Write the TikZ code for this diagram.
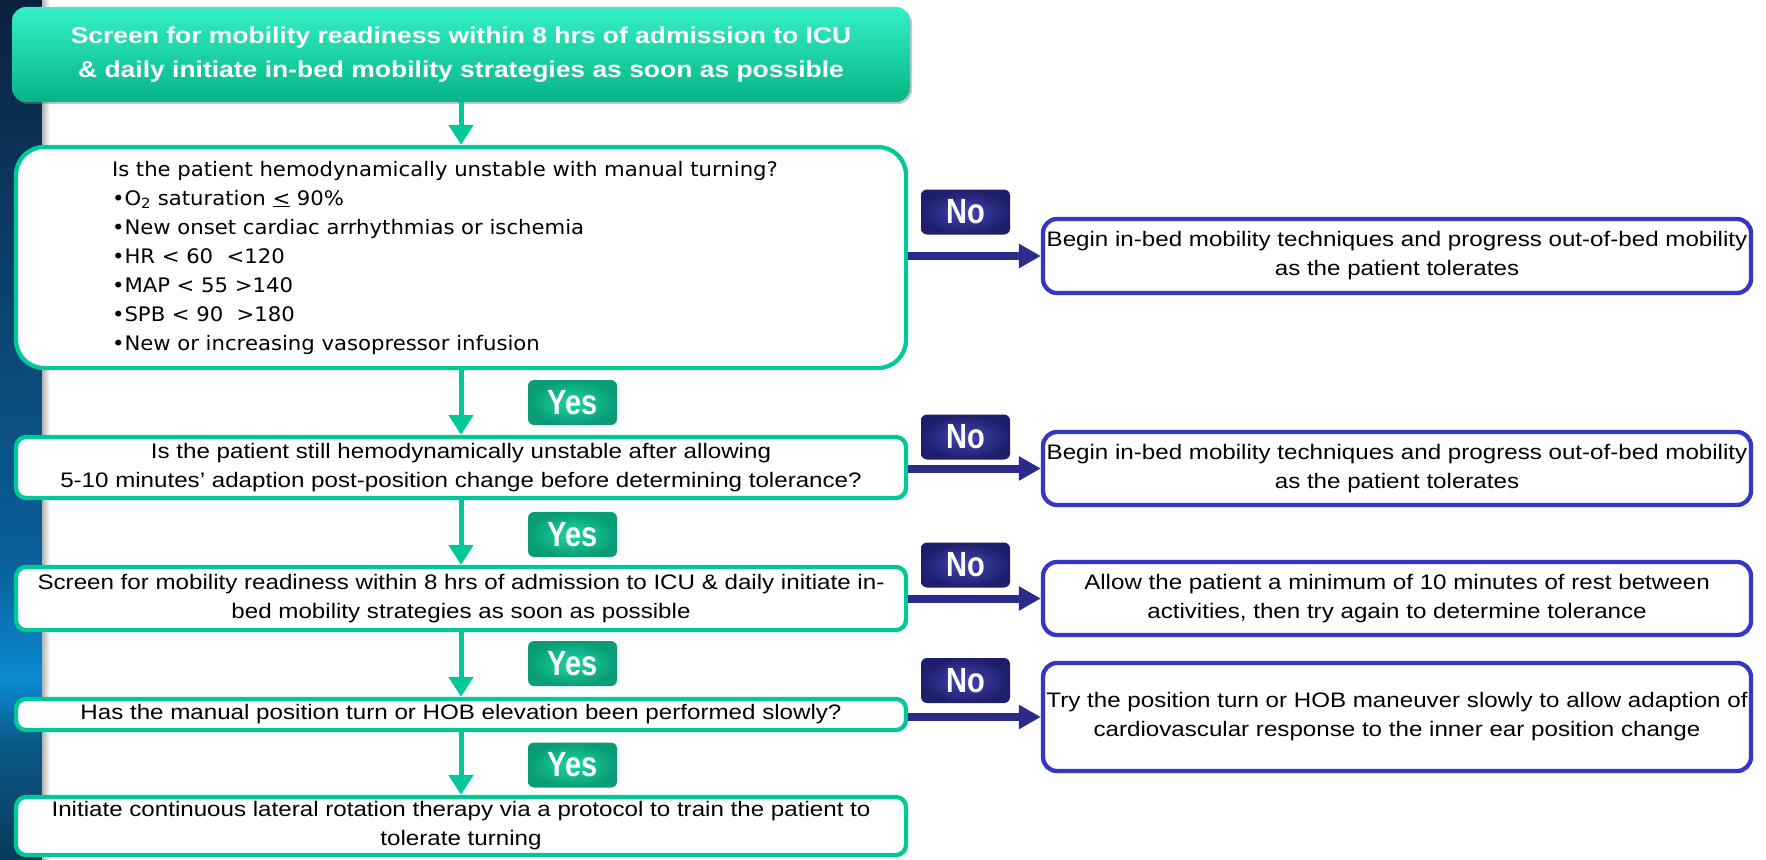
\documentclass[tikz,border=0pt]{standalone}
\usepackage{fontspec}
\setmainfont[FakeStretch=1.15]{Liberation Sans}
\newfontfamily\gulimfont[FakeStretch=1.06]{DejaVu Sans}
\newfontfamily\tagfont[FakeStretch=0.83]{Liberation Sans}
\usetikzlibrary{arrows.meta,shadows}

\definecolor{mintgreen}{HTML}{00C896}
\definecolor{mintlight}{HTML}{34F0C6}
\definecolor{mintdark}{HTML}{06B486}
\definecolor{taggreen}{HTML}{1CD6A4}
\definecolor{taggreendark}{HTML}{0A9C74}
\definecolor{tagnavy}{HTML}{2B2B8C}
\definecolor{tagnavylight}{HTML}{4444B4}
\definecolor{tagnavydark}{HTML}{1E1E6C}
\definecolor{boxblue}{HTML}{3535C8}
\definecolor{stripA}{HTML}{0A2140}
\definecolor{stripB}{HTML}{0B3E66}
\definecolor{stripC}{HTML}{0A5F98}
\definecolor{stripD}{HTML}{0B8AD2}
\definecolor{stripE}{HTML}{0A5A88}
\definecolor{stripF}{HTML}{0A3A5A}

\pgfdeclareverticalshading{stripshade}{100bp}{color(0bp)=(stripF); color(25bp)=(stripF);
  color(31.9bp)=(stripE); color(35.4bp)=(stripD); color(42.4bp)=(stripC);
  color(60.5bp)=(stripB); color(75bp)=(stripA); color(100bp)=(stripA)}

\tikzset{
  headbox/.style={rounded corners=14pt, top color=mintlight, bottom color=mintdark,
    drop shadow={shadow xshift=2pt, shadow yshift=-2pt, opacity=0.45},
    minimum width=898pt, minimum height=95pt, inner sep=0pt, align=center,
    text=white, font=\bfseries\fontsize{23}{34}\selectfont},
  stepbox/.style={draw=mintgreen, line width=4.3pt, rounded corners=10pt, fill=white,
    minimum width=890pt, inner sep=0pt, align=center, font=\fontsize{21}{29}\selectfont},
  sidebox/.style={draw=boxblue, line width=4.3pt, rounded corners=14pt, fill=white,
    minimum width=708pt, inner sep=0pt, align=center, font=\fontsize{21}{29}\selectfont},
  yestag/.style={rounded corners=6pt, inner color=taggreen, outer color=taggreendark,
    minimum width=89pt, minimum height=45pt, inner sep=0pt, text=white,
    font=\tagfont\bfseries\fontsize{35}{35}\selectfont},
  notag/.style={yestag, inner color=tagnavylight, outer color=tagnavydark},
  yesarrow/.style={draw=mintgreen, line width=5pt, -{Triangle[width=24pt,length=20pt]}},
  noarrow/.style={draw=tagnavy, line width=8pt, -{Triangle[width=23pt,length=22pt]}}
}

\begin{document}
\begin{tikzpicture}[x=1pt,y=-1pt]
    \useasboundingbox (0,0) rectangle (1766,859);
    % slide strip on the left
    \shade[shading=stripshade] (0,0) rectangle (42,859);
    \shade[left color=black!30, right color=white] (42,0) rectangle (50,859);

    % main column
    \node[headbox] (screen) at (461,54.5) {Screen for mobility readiness within 8 hrs of admission to ICU\\
        \& daily initiate in-bed mobility strategies as soon as possible};
    \node[stepbox, rounded corners=28pt, minimum height=221pt, text width=698pt, inner xsep=96pt,
        align=left, font=\gulimfont\fontsize{20}{29}\selectfont] (unstable) at (461,257.5)
        {Is the patient hemodynamically unstable with manual turning?\\
        •O\textsubscript{2} saturation \underline{<} 90\%\\
        •New onset cardiac arrhythmias or ischemia\\
        •HR < 60\ \ <120\\
        •MAP < 55 >140\\
        •SPB < 90\ \ >180\\
        •New or increasing vasopressor infusion};
    \node[stepbox, minimum height=61pt] (still) at (461,467.5)
        {Is the patient still hemodynamically unstable after allowing\\
        5-10 minutes’ adaption post-position change before determining tolerance?};
    \node[stepbox, minimum height=63pt] (rescreen) at (461,598.5)
        {Screen for mobility readiness within 8 hrs of admission to ICU \& daily initiate in-\\
        bed mobility strategies as soon as possible};
    \node[stepbox, minimum height=31pt] (slowly) at (461,714.5)
        {Has the manual position turn or HOB elevation been performed slowly?};
    \node[stepbox, minimum height=58pt] (rotation) at (461,826)
        {Initiate continuous lateral rotation therapy via a protocol to train the patient to\\
        tolerate turning};

    % right column
    \node[sidebox, minimum height=74pt] (begin1) at (1397,256)
        {Begin in-bed mobility techniques and progress out-of-bed mobility\\as the patient tolerates};
    \node[sidebox, minimum height=73pt] (begin2) at (1397,468.5)
        {Begin in-bed mobility techniques and progress out-of-bed mobility\\as the patient tolerates};
    \node[sidebox, minimum height=73pt] (rest) at (1397,598.5)
        {Allow the patient a minimum of 10 minutes of rest between\\activities, then try again to determine tolerance};
    \node[sidebox, minimum height=108pt] (retry) at (1397,717)
        {Try the position turn or HOB maneuver slowly to allow adaption of\\cardiovascular response to the inner ear position change};

    % yes path
    \draw[yesarrow] (screen) -- (unstable);
    \draw[yesarrow] (unstable) -- (still);
    \draw[yesarrow] (still) -- (rescreen);
    \draw[yesarrow] (rescreen) -- (slowly);
    \draw[yesarrow] (slowly) -- (rotation);
    \node[yestag] (yes1) at (572.5,402.5) {Yes};
    \node[yestag] (yes2) at (572.5,534.5) {Yes};
    \node[yestag] (yes3) at (572.5,663.5) {Yes};
    \node[yestag] (yes4) at (572.5,765) {Yes};

    % no path
    \draw[noarrow] (unstable.east |- begin1.west) -- (begin1.west);
    \draw[noarrow] (still.east |- begin2.west) -- (begin2.west);
    \draw[noarrow] (rescreen.east |- rest.west) -- (rest.west);
    \draw[noarrow] (slowly.east |- retry.west) -- (retry.west);
    \node[notag] (no1) at (965.5,212) {No};
    \node[notag] (no2) at (965.5,437) {No};
    \node[notag] (no3) at (965.5,565) {No};
    \node[notag] (no4) at (965.5,680.5) {No};
\end{tikzpicture}
\end{document}
